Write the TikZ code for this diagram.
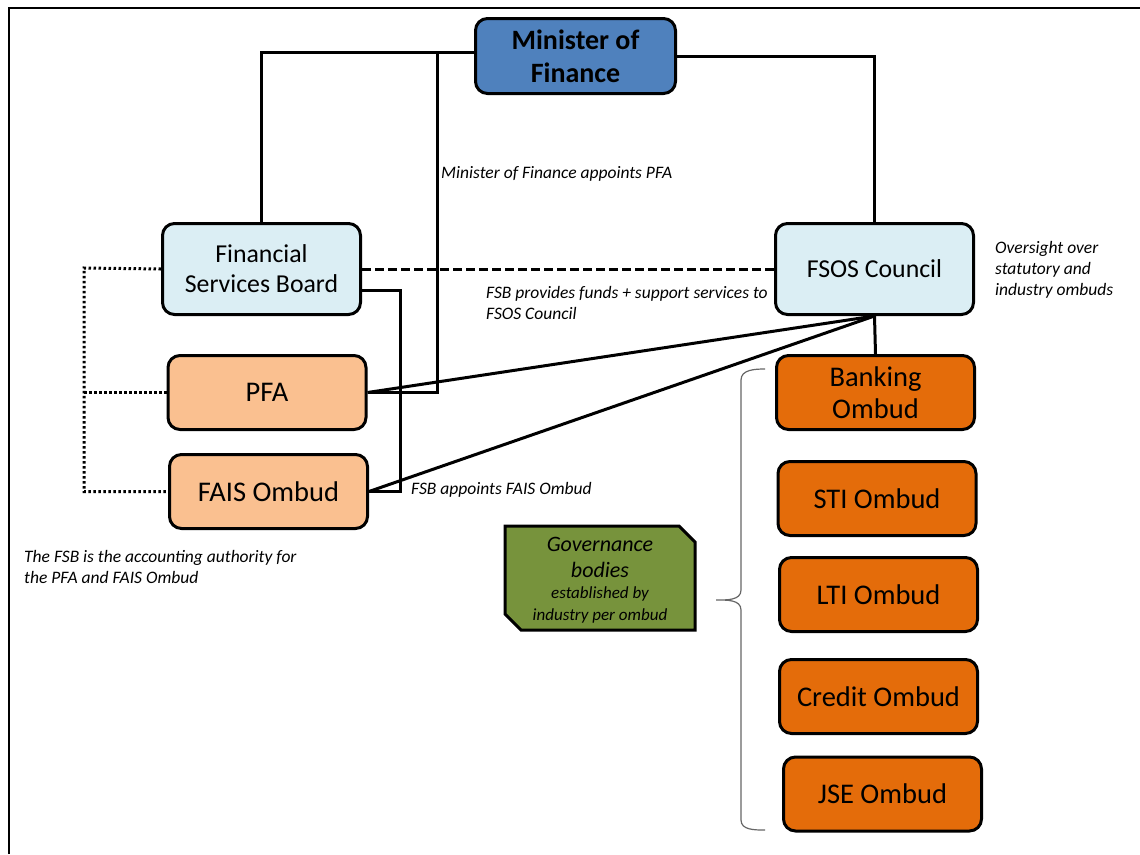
\documentclass[tikz,border=0pt]{standalone}
\usepackage{fontspec}
\setmainfont{Carlito}
\usetikzlibrary{positioning}

\definecolor{mofblue}{HTML}{4F81BD}
\definecolor{paleblue}{HTML}{DBEEF4}
\definecolor{paleorange}{HTML}{FAC090}
\definecolor{darkorange}{HTML}{E46C0A}
\definecolor{govgreen}{HTML}{77933C}

\begin{document}
\begin{tikzpicture}
[x=1pt, y=1pt, every node/.style={inner sep=0pt},
 box/.style={rectangle, rounded corners=12pt, line width=3pt, draw=black, minimum width=198pt, minimum height=74pt, align=center, font=\fontsize{28.5}{32}\selectfont},
 bluebox/.style={box, fill=paleblue, minimum height=91pt, font=\fontsize{25.8}{30}\selectfont},
 link/.style={line width=3pt, color=black},
 note/.style={anchor=west, align=left, font=\fontsize{17.5}{21}\selectfont\itshape}]
\useasboundingbox (0,0) rectangle (1140,-854);
\draw [line width=2pt] (9,-854) -- (9,-8) -- (1140,-8);

% boxes
\node (mof) [box, fill=mofblue, minimum width=200pt, minimum height=75pt, font=\fontsize{28}{33}\selectfont\bfseries] at (575.5, -56) {\textcolor{black}{Minister of}\\\textcolor{black}{Finance}};
\node (fsb) [bluebox] at (261.5, -269) {\textcolor{black}{Financial}\\\textcolor{black}{Services Board}};
\node (fsos) [bluebox] at (874.5, -269) {\textcolor{black}{FSOS Council}};
\node (pfa) [box, fill=paleorange] at (267, -392.5) {\textcolor{black}{PFA}};
\node (fais) [box, fill=paleorange] at (268.5, -491.5) {\textcolor{black}{FAIS Ombud}};
\node (bank) [box, fill=darkorange] at (875.5, -392.5) {\textcolor{black}{Banking}\\\textcolor{black}{Ombud}};
\node (sti) [box, fill=darkorange] at (877, -498.5) {\textcolor{black}{STI Ombud}};
\node (lti) [box, fill=darkorange] at (878.5, -594.5) {\textcolor{black}{LTI Ombud}};
\node (credit) [box, fill=darkorange] at (878.5, -696.5) {\textcolor{black}{Credit Ombud}};
\node (jse) [box, fill=darkorange] at (882.5, -794) {\textcolor{black}{JSE Ombud}};

% governance bodies
\draw [line width=3pt, fill=govgreen] (505,-526) -- (679,-526) -- (695,-542) -- (695,-630) -- (521,-630) -- (505,-614) -- cycle;
\node (gov) [align=center, font=\fontsize{22}{26}\selectfont\itshape] at (600, -557) {Governance\\bodies};
\node (govsub) [align=center, font=\fontsize{17}{22}\selectfont\itshape] at (600, -605) {established by\\industry per ombud};

% connectors
\coordinate (pfajoin) at (437, -52);
\coordinate (dotjoin) at (84, -268);
\draw [link] (mof.west |- pfajoin) -| (fsb.north);
\draw [link] (pfajoin) |- (pfa.east);
\draw [link] (mof.east) -| (fsos.north);
\draw [link] (fsb.-12) -- ++(38,0) |- (fais.east);
\draw [link, dash pattern=on 9pt off 4pt] (fsb.east) -- (fsos.west);
\draw [link] (fsos.south) -- (bank.north);
\draw [link] (pfa.east) -- (fsos.south);
\draw [link] (fais.east) -- (fsos.south);
\draw [link, dash pattern=on 2.5pt off 2.5pt] (fsb.west) -- (dotjoin) |- (fais.west);
\draw [link, dash pattern=on 2.5pt off 2.5pt] (pfa.west) -- (pfa.west -| dotjoin);
\draw [line width=1.2pt, color=gray!80!black] (765,-369) to [out=180, in=90] (741,-380) -- (741,-590) to [out=-90, in=0] (716,-600) to [out=0, in=90] (741,-610) -- (741,-820) to [out=-90, in=180] (765,-830);

% notes
\node (n1) [note] at (441, -174) {Minister of Finance appoints PFA};
\node (n2) [note] at (486, -303) {FSB provides funds + support services to\\FSOS Council};
\node (n3) [note] at (411, -490) {FSB appoints FAIS Ombud};
\node (n4) [note] at (995, -270) {Oversight over\\statutory and\\industry ombuds};
\node (n5) [note] at (24, -567) {The FSB is the accounting authority for\\the PFA and FAIS Ombud};
\end{tikzpicture}
\end{document}
